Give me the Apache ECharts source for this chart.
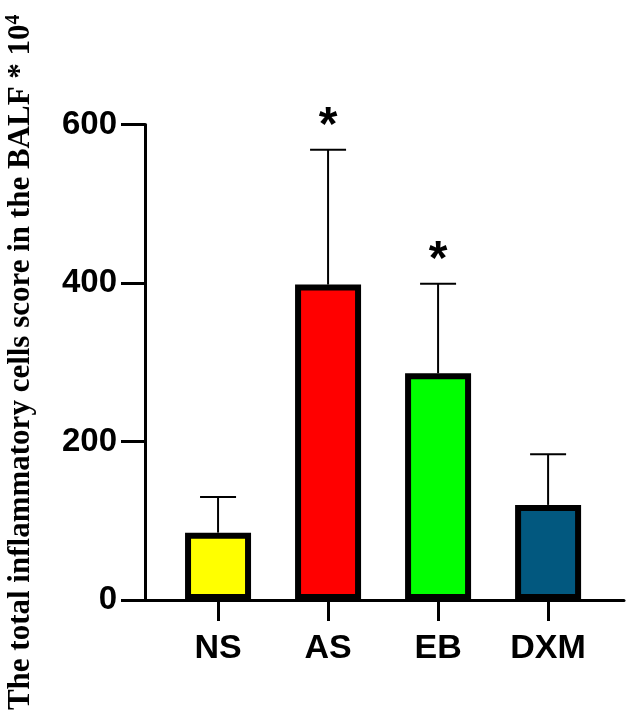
<!DOCTYPE html>
<html>
<head>
<meta charset="utf-8">
<script src="https://cdn.jsdelivr.net/npm/echarts@6/dist/echarts.min.js"></script>
<style>
  html, body { margin: 0; padding: 0; background: #fff; }
  #chart { width: 630px; height: 726px; }
</style>
</head>
<body>
<div id="chart"></div>
<script>
// groups and values
var categories = ['NS', 'AS', 'EB', 'DXM'];
var means = [85, 398, 286, 120];
var sds = [45, 170, 113, 64];
var marks = ['', '*', '*', ''];
var barColors = ['#ffff00', '#ff0000', '#00ff00', '#02587f'];
var yTicks = [0, 200, 400, 600];

var chart = echarts.init(document.getElementById('chart'));

var barData = means.map(function (m, i) {
  return { value: [i, m], itemStyle: { color: barColors[i] } };
});
var errData = means.map(function (m, i) {
  return [i, m, m + sds[i]];
});

var option = {
  backgroundColor: '#fff',
  animation: false,
  grid: {
    left: 145,
    right: 6,
    top: 124.5,
    bottom: 126,
    containLabel: false,
    outerBoundsMode: 'none'
  },
  xAxis: {
    type: 'value',
    min: -0.664,
    max: 3.69,
    splitLine: { show: false },
    axisLine: { onZero: false, lineStyle: { color: '#000', width: 3 } },
    axisTick: {
      customValues: [0, 1, 2, 3],
      length: 21,
      lineStyle: { color: '#000', width: 3 }
    },
    axisLabel: {
      customValues: [0, 1, 2, 3],
      margin: 32,
      color: '#000',
      fontFamily: 'Liberation Sans',
      fontWeight: 'bold',
      fontSize: 34,
      formatter: function (v) { return categories[Math.round(v)]; }
    }
  },
  yAxis: {
    type: 'value',
    min: yTicks[0],
    max: yTicks[yTicks.length - 1],
    interval: 200,
    splitLine: { show: false },
    axisLine: { show: true, onZero: false, lineStyle: { color: '#000', width: 3 } },
    axisTick: { show: true, length: 24, lineStyle: { color: '#000', width: 3 } },
    axisLabel: {
      margin: 28,
      color: '#000',
      fontFamily: 'Liberation Sans',
      fontWeight: 'bold',
      fontSize: 33
    },
    name: 'The total inflammatory cells score in the BALF * 10{sup|4}',
    nameLocation: 'middle',
    nameRotate: 90,
    nameGap: 107,
    nameTextStyle: {
      color: '#000',
      fontFamily: 'Liberation Serif',
      fontWeight: 'bold',
      fontSize: 31,
      rich: {
        sup: {
          fontFamily: 'Liberation Serif',
          fontWeight: 'bold',
          fontSize: 20,
          color: '#000',
          padding: [0, 0, 14, 0]
        }
      }
    }
  },
  series: [
    {
      type: 'custom',
      z: 1,
      renderItem: function (params, api) {
        var i = params.dataIndex;
        var x = api.value(0);
        var base = api.coord([x, api.value(1)]);
        var top = api.coord([x, api.value(2)]);
        var half = 18;
        var children = [
          { type: 'line', shape: { x1: base[0], y1: base[1], x2: top[0], y2: top[1] }, style: { stroke: '#000', lineWidth: 2 } },
          { type: 'line', shape: { x1: top[0] - half, y1: top[1], x2: top[0] + half, y2: top[1] }, style: { stroke: '#000', lineWidth: 2 } }
        ];
        if (marks[i]) {
          children.push({
            type: 'text',
            style: {
              text: marks[i],
              x: top[0],
              y: top[1] - 23,
              align: 'center',
              verticalAlign: 'middle',
              fill: '#000',
              font: 'bold 48px "Liberation Sans"'
            }
          });
        }
        return { type: 'group', children: children };
      },
      data: errData
    },
    {
      type: 'bar',
      z: 2,
      barWidth: 66,
      itemStyle: { borderColor: '#000', borderWidth: 6 },
      data: barData
    }
  ]
};

chart.setOption(option);
</script>
</body>
</html>
